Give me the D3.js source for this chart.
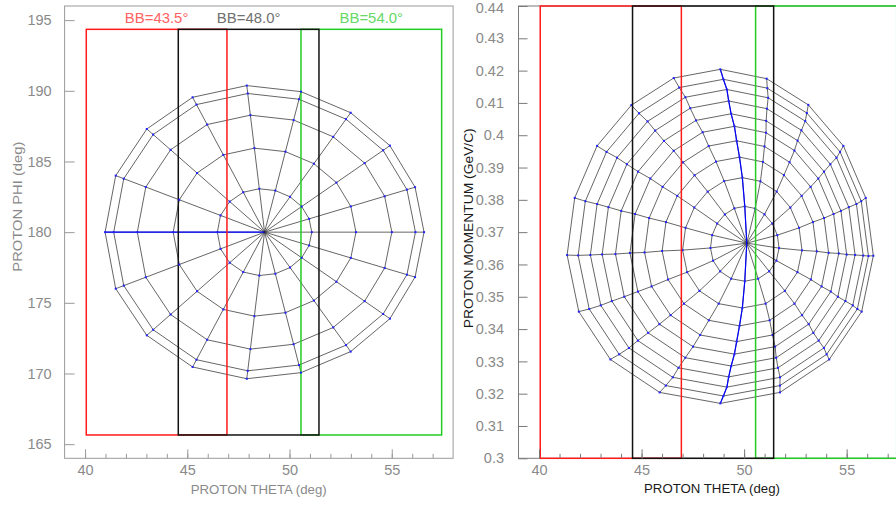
<!DOCTYPE html>
<html>
<head>
<meta charset="utf-8">
<script src="https://cdn.jsdelivr.net/npm/d3@7"></script>
<style>
  body{margin:0;background:#fff}
  svg{display:block}
</style>
</head>
<body>
<svg id="chart" width="896" height="505"></svg>
<script>
// ---- data ----
const THETA_DOMAIN = [39, 58];
const PHI_DOMAIN   = [164, 196];
const P_DOMAIN     = [0.30, 0.44];

const THETA_MAJOR = [40, 45, 50, 55];
const THETA_MINOR = [40,41,42,43,44,45,46,47,48,49,50,51,52,53,54,55,56,57];
const PHI_TICKS   = [165, 170, 175, 180, 185, 190, 195];
const P_TICKS     = [0.30,0.31,0.32,0.33,0.34,0.35,0.36,0.37,0.38,0.39,0.40,0.41,0.42,0.43,0.44];
const P_LABELS    = ["0.3","0.31","0.32","0.33","0.34","0.35","0.36","0.37","0.38","0.39","0.4","0.41","0.42","0.43","0.44"];

// BigBite acceptance boxes
const BOX_LABELS = ["BB=43.5°", "BB=48.0°", "BB=54.0°"];
const BOX_CENTER = [43.5, 48.0, 54.0];
const BOX_LO     = [40.06, 44.56, 50.56];
const BOX_HI     = [46.94, 51.44, 57.44];
const BOX_PHI    = [165.65, 194.35];
const BOX_P      = [0.30, 0.44];

// left web (theta, phi): outer ring vertices, ring centres and ring scales
const L_CENTER      = [48.78, 180.0];
const L_OUTER_THETA = [40.98, 41.50, 43.02, 45.26, 47.91, 50.56, 52.99, 54.91, 56.14,
                       56.58, 56.14, 54.91, 52.99, 50.56, 47.91, 45.26, 43.02, 41.50];
const L_OUTER_PHI   = [180.00, 184.00, 187.30, 189.54, 190.37, 189.94, 188.45, 186.12, 183.18,
                       180.00, 176.82, 173.88, 171.55, 170.06, 169.63, 170.46, 172.70, 176.00];
const L_RING_THETA  = [48.78, 48.78, 48.78, 48.78, 48.78];
const L_RING_PHI    = [180.0, 180.0, 180.0, 180.0, 180.0];
const L_RING_SCALE  = [1, 0.946, 0.798, 0.573, 0.296];
const L_BLUE_SPOKES = [0];

// right web (theta, momentum)
const R_CENTER      = [50.13, 0.3666];
const R_OUTER_THETA = [48.84, 51.10, 53.13, 54.84, 55.93, 56.30, 55.73, 54.15, 51.75,
                       48.84, 45.88, 43.48, 41.94, 41.37, 41.74, 42.83, 44.50, 46.57];
const R_OUTER_P     = [0.4204, 0.4175, 0.4094, 0.3967, 0.3806, 0.3627, 0.3454, 0.3306, 0.3204,
                       0.3170, 0.3204, 0.3306, 0.3454, 0.3629, 0.3806, 0.3967, 0.4093, 0.4177];
const R_RING_THETA  = [48.83, 48.98, 49.15, 49.24, 49.36, 49.52, 49.63, 49.77, 49.91, 50.03];
const R_RING_P      = [0.3687, 0.3683, 0.3681, 0.3679, 0.3676, 0.3675, 0.3672, 0.3671, 0.3667, 0.3664];
const R_RING_SCALE  = [1, 0.948, 0.891, 0.826, 0.755, 0.682, 0.601, 0.505, 0.39, 0.224];
const R_BLUE_SPOKES = [0, 9];

// ---- drawing ----
const FONT = "'Liberation Sans', Arial, sans-serif";
const BOX_COLORS = ["#ff1a1a", "#111111", "#22cc22"];
const LABEL_COLORS = ["#ff6262", "#707070", "#66d966"];
const BOX_ORDER = [0, 2, 1];   // black is drawn over green and red

const svg = d3.select("#chart");
svg.append("rect").attr("width", 896).attr("height", 505).attr("fill", "#fff");

function ringVerts(w){
  return w.scale.map((s,k)=>w.outerX.map((ox,j)=>[
    w.ringX[k] + s*(ox - w.ringX[0]),
    w.ringY[k] + s*(w.outerY[j] - w.ringY[0])
  ]));
}

function drawWeb(g, x, y, w){
  const rings = ringVerts(w);
  const line = d3.line().x(d=>x(d[0])).y(d=>y(d[1]));
  const spokes = w.outerX.map((_,j)=>[w.center].concat(rings.slice().reverse().map(r=>r[j])));

  g.selectAll("path.spoke").data(spokes).join("path").attr("class","spoke")
    .attr("d", line).attr("fill","none").attr("stroke","#333").attr("stroke-width",0.75);
  g.selectAll("path.ring").data(rings).join("path").attr("class","ring")
    .attr("d", d3.line().x(d=>x(d[0])).y(d=>y(d[1])).curve(d3.curveLinearClosed))
    .attr("fill","none").attr("stroke","#333").attr("stroke-width",0.75);
  g.selectAll("path.blue").data(w.blue.map(j=>spokes[j])).join("path").attr("class","blue")
    .attr("d", line).attr("fill","none").attr("stroke","#0000ff").attr("stroke-width",1.2);
  return rings;
}

function drawDots(g, x, y, rings){
  g.selectAll("rect.dot").data(rings.flat()).join("rect").attr("class","dot")
    .attr("x", d=>x(d[0])-1).attr("y", d=>y(d[1])-1)
    .attr("width",2).attr("height",2).attr("fill","#2222ff");
}

function drawBoxes(g, x, y, yRange){
  BOX_ORDER.forEach(i=>{
    g.append("rect")
      .attr("x", x(BOX_LO[i])).attr("y", y(yRange[1]))
      .attr("width", x(BOX_HI[i]) - x(BOX_LO[i]))
      .attr("height", y(yRange[0]) - y(yRange[1]))
      .attr("fill","none").attr("stroke", BOX_COLORS[i]).attr("stroke-width",1.5);
  });
}

function styleAxis(a, col){
  a.select(".domain").remove();
  a.selectAll("line").attr("stroke", col);
  a.selectAll("text").attr("fill","#8a8a8a").style("font-family",FONT).style("font-size","14.5px");
}

function thetaAxis(x, yPix, col){
  svg.append("g").attr("transform",`translate(0,${yPix})`)
    .call(d3.axisBottom(x).tickValues(THETA_MINOR).tickSize(-4.5).tickFormat(""))
    .call(a=>styleAxis(a,col));
  svg.append("g").attr("transform",`translate(0,${yPix})`)
    .call(d3.axisBottom(x).tickValues(THETA_MAJOR).tickSize(-9).tickPadding(6).tickFormat(d3.format("d")))
    .call(a=>styleAxis(a,col));
}

function frame(xR, yR, col){
  svg.append("rect").attr("x", xR[0]).attr("y", yR[1])
    .attr("width", xR[1]-xR[0]).attr("height", yR[0]-yR[1])
    .attr("fill","none").attr("stroke", col).attr("stroke-width",1);
}

function title(txt, xp, yp, len, col, rot){
  const t = svg.append("text").attr("x", xp).attr("y", yp)
    .attr("text-anchor","middle").attr("fill", col)
    .attr("textLength", len).attr("lengthAdjust","spacingAndGlyphs")
    .style("font-family",FONT).style("font-size","13.5px").text(txt);
  if(rot) t.attr("transform",`rotate(-90,${xp},${yp})`);
}

// ---- left panel: phi vs theta ----
{
  const xR = [64.6, 453.1], yR = [458.3, 6];
  const x = d3.scaleLinear().domain(THETA_DOMAIN).range(xR);
  const y = d3.scaleLinear().domain(PHI_DOMAIN).range(yR);
  svg.append("clipPath").attr("id","clipL").append("rect")
    .attr("x",xR[0]).attr("y",yR[1]).attr("width",xR[1]-xR[0]).attr("height",yR[0]-yR[1]);
  const g = svg.append("g").attr("clip-path","url(#clipL)");

  const rings = drawWeb(g, x, y, {center:L_CENTER, outerX:L_OUTER_THETA, outerY:L_OUTER_PHI,
    ringX:L_RING_THETA, ringY:L_RING_PHI, scale:L_RING_SCALE, blue:L_BLUE_SPOKES});
  drawBoxes(g, x, y, BOX_PHI);
  drawDots(g, x, y, rings);

  frame(xR, yR, "#9a9a9a");
  thetaAxis(x, yR[0], "#9a9a9a");
  svg.append("g").attr("transform",`translate(${xR[0]},0)`)
    .call(d3.axisLeft(y).tickValues(PHI_TICKS).tickSize(-10).tickPadding(13).tickFormat(d3.format("d")))
    .call(a=>styleAxis(a,"#9a9a9a"));

  BOX_LABELS.forEach((lab,i)=>{
    svg.append("text").attr("x", x(BOX_CENTER[i])).attr("y", 23)
      .attr("text-anchor","middle").attr("fill", LABEL_COLORS[i])
      .attr("textLength", 63.5).attr("lengthAdjust","spacingAndGlyphs")
      .style("font-family",FONT).style("font-size","14.5px").text(lab);
  });

  title("PROTON THETA (deg)", 258.7, 494, 136, "#8a8a8a", false);
  title("PROTON PHI (deg)", 22.5, 206.7, 130, "#8a8a8a", true);
}

// ---- right panel: momentum vs theta ----
{
  const xR = [518.5, 908.2], yR = [458.3, 6];
  const x = d3.scaleLinear().domain(THETA_DOMAIN).range(xR);
  const y = d3.scaleLinear().domain(P_DOMAIN).range(yR);
  svg.append("clipPath").attr("id","clipR").append("rect")
    .attr("x",xR[0]).attr("y",yR[1]).attr("width",xR[1]-xR[0]).attr("height",yR[0]-yR[1]);
  const g = svg.append("g").attr("clip-path","url(#clipR)");

  const rings = drawWeb(g, x, y, {center:R_CENTER, outerX:R_OUTER_THETA, outerY:R_OUTER_P,
    ringX:R_RING_THETA, ringY:R_RING_P, scale:R_RING_SCALE, blue:R_BLUE_SPOKES});

  frame(xR, yR, "#7a7a7a");
  drawBoxes(svg.append("g"), x, y, BOX_P);
  drawDots(g, x, y, rings);

  thetaAxis(x, yR[0], "#7a7a7a");
  svg.append("g").attr("transform",`translate(${xR[0]},0)`)
    .call(d3.axisLeft(y).tickValues(P_TICKS).tickSize(-9).tickPadding(14.5)
      .tickFormat((d,i)=>P_LABELS[i]))
    .call(a=>styleAxis(a,"#7a7a7a"))
    .call(a=>a.selectAll("text").filter(d=>d===P_TICKS[P_TICKS.length-1]).attr("dy","0.45em"));

  title("PROTON THETA (deg)", 712, 493.3, 136, "#1a1a1a", false);
  title("PROTON MOMENTUM (GeV/C)", 473, 228.3, 200, "#1a1a1a", true);
}
</script>
</body>
</html>
